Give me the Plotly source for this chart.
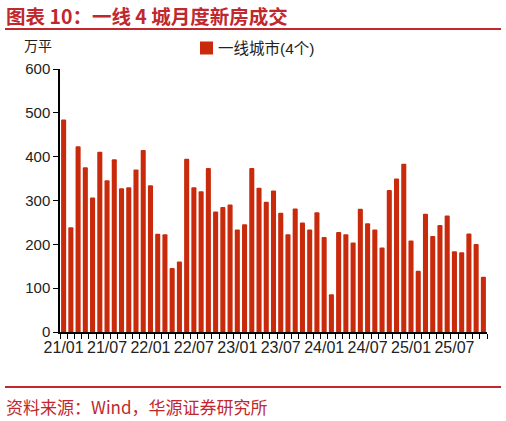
import plotly.graph_objects as go

months = [f"{y:02d}/{m:02d}" for y in range(21, 26) for m in range(1, 13)][:59]
values = [485, 239, 424, 376, 307, 411, 346, 394, 328, 330, 371, 415,
          335, 224, 223, 146, 161, 395, 330, 321, 374, 275, 285, 291,
          234, 246, 374, 329, 297, 323, 272, 223, 282, 250, 234, 273,
          217, 86, 228, 223, 204, 281, 248, 234, 193, 324, 350, 384,
          209, 140, 270, 219, 244, 266, 184, 182, 225, 201, 126]
label_months = ["21/01", "21/07", "22/01", "22/07", "23/01", "23/07",
                "24/01", "24/07", "25/01", "25/07"]
series_name = "一线城市(4个)"
y_ticks = [0, 100, 200, 300, 400, 500, 600]

W, H = 506, 421
L, R, T, B = 60, 19, 69, 89
PW, PH = W - L - R, H - T - B

def px(x):
    return (x - L) / PW

def py(y):
    return (H - B - y) / PH

BAR = "#C92A0C"
RED = "#C0282D"
FONT = "Liberation Sans, Noto Sans CJK SC, Arial, sans-serif"

fig = go.Figure()
fig.add_trace(go.Bar(
    x=months, y=values, name=series_name,
    marker=dict(color=BAR, line=dict(width=0), cornerradius=1),
    showlegend=False,
))

ticktext = [m if m in label_months else "" for m in months]

fig.update_layout(
    width=W, height=H,
    margin=dict(l=L, r=R, t=T, b=B),
    paper_bgcolor="white", plot_bgcolor="white",
    bargap=0.3,
    font=dict(family=FONT, size=15, color="#222"),
    xaxis=dict(
        type="category", tickmode="array", tickvals=months, ticktext=ticktext,
        tickson="boundaries", ticks="outside", ticklen=5, tickcolor="#000",
        tickwidth=1, showline=True, linecolor="#000", linewidth=1.5,
        showgrid=False, tickangle=0, tickfont=dict(size=16, color="#222"),
    ),
    yaxis=dict(
        range=[0, 600], tickvals=y_ticks, ticks="outside", ticklen=5,
        tickcolor="#000", showline=True, linecolor="#000", linewidth=1.5,
        showgrid=False, zeroline=False, tickfont=dict(size=15, color="#222"),
    ),
    shapes=[
        dict(type="line", xref="paper", yref="paper", x0=px(5), x1=px(501),
             y0=py(29), y1=py(29), line=dict(color=RED, width=2)),
        dict(type="line", xref="paper", yref="paper", x0=px(5), x1=px(501),
             y0=py(387), y1=py(387), line=dict(color=RED, width=2)),
        dict(type="rect", xref="paper", yref="paper", x0=px(200), x1=px(213),
             y0=py(54.5), y1=py(41.5), fillcolor=BAR, line=dict(width=0)),
    ],
    annotations=[
        dict(text="<b>图表 10：一线 4 城月度新房成交</b>", xref="paper", yref="paper",
             x=px(4), y=py(15), xanchor="left", yanchor="middle", showarrow=False,
             font=dict(size=19.5, color=RED, family="Noto Sans CJK SC, sans-serif")),
        dict(text="万平", xref="paper", yref="paper",
             x=px(22), y=py(45), xanchor="left", yanchor="middle", showarrow=False,
             font=dict(size=14, color="#222", family="Noto Sans CJK SC, sans-serif")),
        dict(text=series_name, xref="paper", yref="paper",
             x=px(216), y=py(48), xanchor="left", yanchor="middle", showarrow=False,
             font=dict(size=15.5, color="#222", family=FONT)),
        dict(text="资料来源：Wind，华源证券研究所", xref="paper", yref="paper",
             x=px(4), y=py(406), xanchor="left", yanchor="middle", showarrow=False,
             font=dict(size=17, color=RED, family="Noto Sans CJK SC, sans-serif")),
    ],
)

fig.write_html("out.html", config={"displayModeBar": False},
               post_script="document.body.style.margin='0px';")
